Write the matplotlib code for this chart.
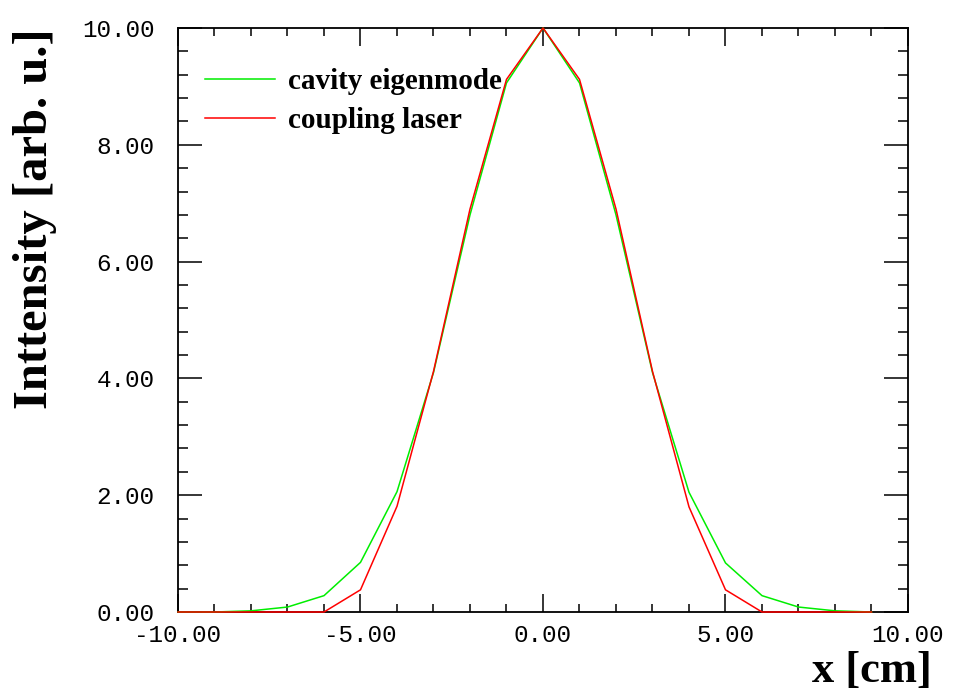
import matplotlib
matplotlib.use("Agg")
import matplotlib.pyplot as plt
from matplotlib.ticker import MultipleLocator, FormatStrFormatter

# Transverse intensity profiles sampled on a 1 cm grid
x_cm = [-10, -9, -8, -7, -6, -5, -4, -3, -2, -1, 0, 1, 2, 3, 4, 5, 6, 7, 8, 9]
cavity_eigenmode = [0.0, 0.0, 0.02, 0.085, 0.28, 0.85, 2.06, 4.1, 6.8, 9.06,
                    10.0, 9.06, 6.8, 4.1, 2.05, 0.84, 0.28, 0.085, 0.02, 0.0]
coupling_laser = [0.0, 0.0, 0.0, 0.0, 0.0, 0.38, 1.81, 4.12, 6.9, 9.12,
                  10.0, 9.12, 6.9, 4.12, 1.8, 0.38, 0.0, 0.0, 0.0, 0.0]

series_labels = ["cavity eigenmode", "coupling laser"]
x_label = "x [cm]"
y_label = "Inttensity [arb. u.]"

W, H = 954, 693
fig = plt.figure(figsize=(W / 100, H / 100), dpi=100)
ax = fig.add_axes([178 / W, 1 - 612 / H, (908 - 178) / W, (612 - 28) / H])

ax.plot(x_cm, cavity_eigenmode, color="#00ee00", lw=1.1, label=series_labels[0],
        zorder=3, clip_on=False)
ax.plot(x_cm, coupling_laser, color="#ff0000", lw=1.1, label=series_labels[1],
        zorder=3.1, clip_on=False)

ax.set_xlim(-10, 10)
ax.set_ylim(0, 10)

ax.xaxis.set_major_locator(MultipleLocator(5))
ax.xaxis.set_minor_locator(MultipleLocator(1))
ax.yaxis.set_major_locator(MultipleLocator(2))
ax.yaxis.set_minor_locator(MultipleLocator(0.4))
ax.xaxis.set_major_formatter(FormatStrFormatter("%.2f"))
ax.yaxis.set_major_formatter(FormatStrFormatter("%.2f"))

ax.tick_params(axis="x", which="major", direction="in", length=13, width=1.1,
               top=True, bottom=True, pad=9)
ax.tick_params(axis="x", which="minor", direction="in", length=6, width=1.1,
               top=True, bottom=True)
ax.tick_params(axis="y", which="major", direction="in", length=17, width=1.1,
               left=True, right=True, pad=17)
ax.tick_params(axis="y", which="minor", direction="in", length=7, width=1.1,
               left=True, right=True)
for lbl in ax.get_xticklabels() + ax.get_yticklabels():
    lbl.set_fontfamily("Liberation Mono")
    lbl.set_fontsize(17.5)
for s in ax.spines.values():
    s.set_linewidth(1.3)

fig.text(932 / W, 1.5 / H, x_label, ha="right", va="bottom",
         family="Liberation Serif", weight="bold", size=32)
fig.text(35 / W, 1 - 219 / H, y_label, ha="center", va="center", rotation=90,
         family="Liberation Serif", weight="bold", size=35)

leg = ax.legend(loc="upper left", bbox_to_anchor=((205 - 178) / 730, (612 - 68) / 584),
                frameon=False, borderpad=0, borderaxespad=0,
                handlelength=2.4, handletextpad=0.45, labelspacing=0.42,
                prop=dict(family="Liberation Serif", weight="bold", size=21))

fig.savefig("out.png", dpi=100)
